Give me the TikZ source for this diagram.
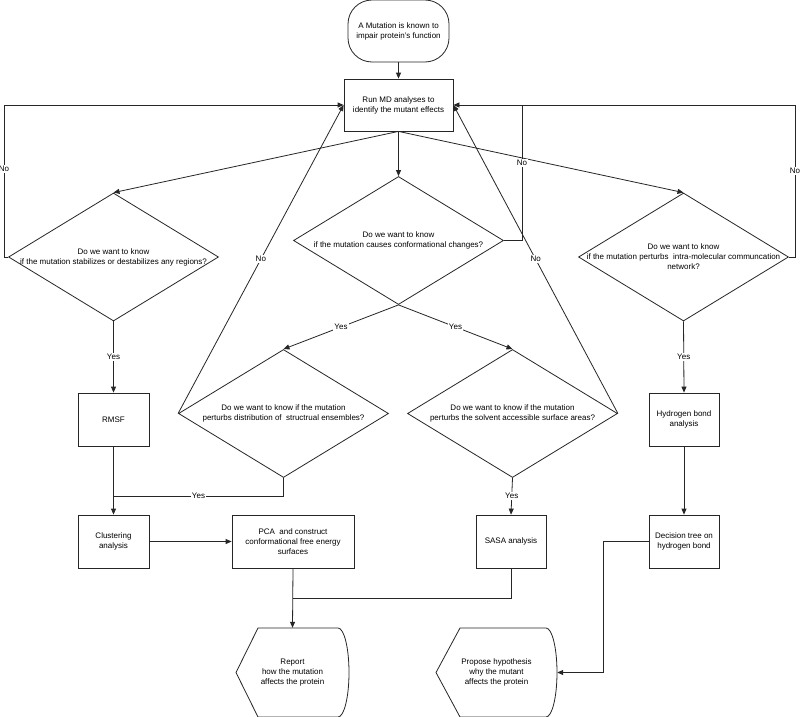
\documentclass[tikz,border=0pt]{standalone}
\usepackage{fontspec}
\setmainfont{Liberation Sans}
\usetikzlibrary{shapes.geometric,arrows.meta}
\begin{document}
\begin{tikzpicture}[x=1pt,y=-1pt,
  every node/.style={font=\fontsize{8}{10}\selectfont, align=center},
  ln/.style={draw=black!85, line width=0.8pt},
  arr/.style={ln, -{Triangle[length=6pt,width=5pt]}},
  box/.style={draw=black!85, line width=0.8pt, rectangle, inner sep=1pt},
  dia/.style={draw=black!85, line width=0.8pt, diamond, inner sep=0pt, minimum width=210pt, minimum height=128pt},
  term/.style={draw=black!85, line width=0.8pt, rectangle, rounded corners=24pt, minimum width=101pt, minimum height=62pt},
  lbl/.style={fill=white, inner sep=1pt},
  disp/.style={rectangle, inner sep=0pt}
]
\useasboundingbox (0,0) rectangle (800,717);
\fill[white] (0,0) rectangle (800,717);

% main nodes
\node[term] (start) at (398.5,31) {A Mutation is known to\\impair protein's function};
\node[box, minimum width=109pt, minimum height=52pt] (run) at (398.5,105) {Run MD analyses to\\identify the mutant effects};

\node[dia] (d1) at (113.5,257) {};
\node (t1) at (d1) {Do we want to know\\if the mutation stabilizes or destabilizes any regions?};
\node[dia] (d2) at (398.5,240.5) {};
\node (t2) at (d2) {Do we want to know\\if the mutation causes conformational changes?};
\node[dia] (d3) at (683.5,257) {};
\node (t3) at (d3) {Do we want to know\\if the mutation perturbs\ \ intra-molecular communcation\\network?};
\node[dia] (d4) at (283.5,413.5) {};
\node (t4) at (d4) {Do we want to know if the mutation\\perturbs distribution of\ \ structrual ensembles?};
\node[dia] (d5) at (512.5,413.5) {};
\node (t5) at (d5) {Do we want to know if the mutation\\perturbs the solvent accessible surface areas?};

\node[box, minimum width=71pt, minimum height=53pt] (rmsf) at (113.5,419.5) {RMSF};
\node[box, minimum width=70pt, minimum height=53pt] (hb) at (684,419.5) {Hydrogen bond\\analysis};
\node[box, minimum width=71pt, minimum height=53pt] (clu) at (113.5,541.5) {Clustering\\analysis};
\node[box, minimum width=122pt, minimum height=53pt] (pca) at (293,541.5) {PCA\ \ and construct\\conformational free energy\\surfaces};
\node[box, minimum width=70pt, minimum height=53pt] (sasa) at (511,541.5) {SASA analysis};
\node[box, minimum width=70pt, minimum height=53pt] (dt) at (684,541.5) {Decision tree on\\hydrogen bond};

% display shapes
\draw[ln] (236,672.5) -- (258,628) -- (338,628) arc[start angle=90, end angle=-90, x radius=11pt, y radius=44.5pt] -- (258,717) -- cycle;
\node[disp, minimum width=113pt, minimum height=89pt] (rep) at (292.5,672.5) {Report\\how the mutation\\affects the protein};
\draw[ln] (436,672.5) -- (460,628) -- (546,628) arc[start angle=90, end angle=-90, x radius=11pt, y radius=44.5pt] -- (460,717) -- cycle;
\node[disp, minimum width=121pt, minimum height=89pt] (prop) at (496.5,672.5) {Propose hypothesis\\why the mutant\\affects the protein};

% helper coordinates
\coordinate (cL) at (4,105);
\coordinate (cR) at (795,105);
\coordinate (cM) at (522,105);
\coordinate (jL) at (113.5,496);
\coordinate (jB) at (293,598);
\coordinate (cD) at (603,672.5);

% connectors
\draw[arr] (start.south) -- (run.north);
\draw[arr] (run.south) -- (d1.north);
\draw[arr] (run.south) -- (d2.north);
\draw[arr] (run.south) -- (d3.north);

\draw[arr] (d1.west) -| (cL) -- (run.west);
\node[lbl] (n1) at (4,169) {No};
\draw[arr] (d3.east) -| (cR) -- (run.east);
\node[lbl] (n3) at (795,171) {No};
\draw[ln] (d2.east) -| (cM);
\node[lbl] (n2) at (522,163) {No};
\draw[arr] (d4.west) -- node[lbl] (n4) {No} (run.west);
\draw[arr] (d5.east) -- node[lbl] (n5) {No} (run.east);

\draw[arr] (d2.south) -- node[lbl] (y1) {Yes} (d4.north);
\draw[arr] (d2.south) -- node[lbl] (y2) {Yes} (d5.north);
\draw[arr] (d1.south) -- node[lbl] (y3) {Yes} (rmsf.north);
\draw[arr] (d3.south) -- node[lbl] (y4) {Yes} (hb.north);
\draw[arr] (rmsf.south) -- (clu.north);
\draw[ln] (d4.south) |- node[lbl, pos=0.75] (y5) {Yes} (jL);
\draw[arr] (d5.south) -- node[lbl] (y6) {Yes} (sasa.north);
\draw[arr] (hb.south) -- (dt.north);
\draw[arr] (clu.east) -- (pca.west);
\draw[arr] (pca.south) -- (rep.north);
\draw[ln] (sasa.south) |- (jB);
\draw[arr] (dt.west) -| (cD) -- (prop.east);
\end{tikzpicture}
\end{document}
